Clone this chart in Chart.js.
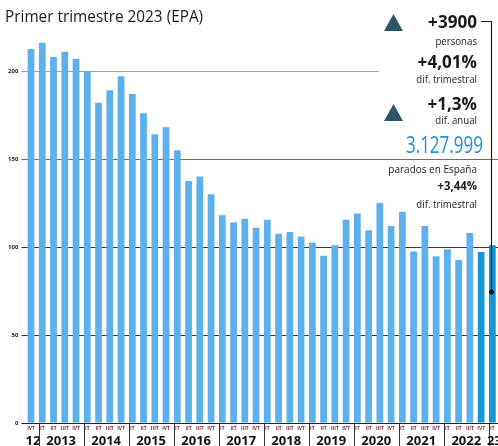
<!DOCTYPE html>
<html>
<head>
<meta charset="utf-8">
<script src="https://cdn.jsdelivr.net/npm/chart.js@4.4.0/dist/chart.umd.min.js"></script>
<style>
  html, body { margin: 0; padding: 0; background: #fff; overflow: hidden; }
  canvas { display: block; }
</style>
</head>
<body>
<canvas id="paroChart" width="498" height="446"></canvas>
<script>
// parados por trimestre (miles), EPA
const quarters = ['IVT',
  'IT','IIT','IIIT','IVT', 'IT','IIT','IIIT','IVT', 'IT','IIT','IIIT','IVT',
  'IT','IIT','IIIT','IVT', 'IT','IIT','IIIT','IVT', 'IT','IIT','IIIT','IVT',
  'IT','IIT','IIIT','IVT', 'IT','IIT','IIIT','IVT', 'IT','IIT','IIIT','IVT',
  'IT','IIT','IIIT','IVT', 'IT'];
const years = ['12','2013','2014','2015','2016','2017','2018','2019','2020','2021','2022','23'];
const quartersPerYear = [1,4,4,4,4,4,4,4,4,4,4,1];
const parados = [212.5,
  216, 208, 211, 207,
  200, 182, 189, 197,
  187, 176, 164, 168,
  155, 137.5, 140, 130,
  118, 114, 116, 111,
  115.5, 107.5, 108.5, 106,
  102.5, 95, 101, 115.5,
  119, 109.5, 125, 112,
  120, 97.5, 112, 94.7,
  98.7, 92.6, 108, 97.2,
  101];
const yTicks = [0, 50, 100, 150, 200];

const gridColors = { 0: '#222222', 50: '#4a3333', 100: '#4a3030', 150: '#b9504a', 200: '#a3a3a3' };

const labels = quarters.map((q, i) => q + '-' + i);

function tri(c, x, y) {
  c.beginPath();
  c.moveTo(x, y + 17);
  c.lineTo(x + 9.5, y);
  c.lineTo(x + 19, y + 17);
  c.closePath();
  c.fillStyle = '#2f5569';
  c.fill();
}

// texto estrechado (la fuente original es condensada)
function narrowText(c, txt, right, base, sx) {
  c.save();
  c.translate(right, base);
  c.scale(sx, 1);
  c.textAlign = 'right';
  c.fillText(txt, 0, 0);
  c.restore();
}

const overlay = {
  id: 'overlay',
  afterDraw(chart) {
    const c = chart.ctx;
    const xs = chart.scales.x;
    c.save();

    // hueco blanco del recuadro de la derecha
    c.fillStyle = '#fff';
    c.fillRect(379, 30, 119, 110);

    // titulo
    c.fillStyle = '#1b1b1b';
    c.font = '500 16.5px "Open Sans"';
    c.textAlign = 'left';
    c.textBaseline = 'alphabetic';
    c.save();
    c.translate(5, 22);
    c.scale(0.93, 1);
    c.fillText('Primer trimestre 2023 (EPA)', 0, 0);
    c.restore();

    // etiquetas de trimestre
    c.font = 'bold 5px "Open Sans"';
    c.textAlign = 'center';
    c.fillStyle = '#7b2d4a';
    quarters.forEach((q, i) => {
      c.fillText(q, xs.getPixelForValue(i), 430);
    });

    // años y separadores
    c.font = 'bold 13px "Open Sans"';
    c.fillStyle = '#111';
    c.strokeStyle = '#333';
    c.lineWidth = 1;
    let idx = 0;
    years.forEach((y, k) => {
      const n = quartersPerYear[k];
      const first = xs.getPixelForValue(idx);
      const last = xs.getPixelForValue(idx + n - 1);
      c.fillText(y, (first + last) / 2 + 2, 445);
      idx += n;
      if (idx < quarters.length) {
        const sx = Math.round((last + xs.getPixelForValue(idx)) / 2) + 2.5;
        c.beginPath();
        c.moveTo(sx, 424);
        c.lineTo(sx, 446);
        c.stroke();
      }
    });

    // cifras de la derecha
    c.textAlign = 'right';
    c.fillStyle = '#1b1b1b';
    c.font = 'bold 18px "Open Sans"';
    narrowText(c, '+3900', 477, 28, 0.95);
    c.font = '10.5px "Open Sans"';
    narrowText(c, 'personas', 477, 45, 0.92);
    c.font = 'bold 18px "Open Sans"';
    narrowText(c, '+4,01%', 477, 68, 0.95);
    c.font = '10.5px "Open Sans"';
    narrowText(c, 'dif. trimestral', 477, 83, 0.92);
    c.font = 'bold 18px "Open Sans"';
    narrowText(c, '+1,3%', 477, 110, 0.95);
    c.font = '10.5px "Open Sans"';
    narrowText(c, 'dif. anual', 477, 124, 0.92);
    c.fillStyle = '#2a8dd4';
    c.font = '23px "Open Sans"';
    narrowText(c, '3.127.999', 483, 153, 0.74);
    c.fillStyle = '#1b1b1b';
    c.font = '10.5px "Open Sans"';
    narrowText(c, 'parados en España', 477, 173, 0.95);
    c.font = 'bold 12px "Open Sans"';
    narrowText(c, '+3,44%', 477, 190, 0.95);
    c.font = '10.5px "Open Sans"';
    narrowText(c, 'dif. trimestral', 477, 208, 0.92);

    tri(c, 384, 14);
    tri(c, 384, 104);

    // corchete
    c.strokeStyle = '#222';
    c.lineWidth = 1.2;
    c.beginPath();
    c.moveTo(481, 21.5);
    c.lineTo(491.5, 21.5);
    c.lineTo(491.5, 292);
    c.stroke();
    c.fillStyle = '#111';
    c.beginPath();
    c.arc(491.5, 292, 2.5, 0, Math.PI * 2);
    c.fill();

    c.restore();
  }
};

new Chart(document.getElementById('paroChart'), {
  type: 'bar',
  data: {
    labels: labels,
    datasets: [{
      data: parados,
      backgroundColor: parados.map((v, i) => i >= parados.length - 2 ? '#1796d7' : '#5cb0ec'),
      borderWidth: 0,
      barPercentage: 0.6,
      categoryPercentage: 1
    }]
  },
  options: {
    responsive: false,
    devicePixelRatio: 1,
    animation: false,
    layout: { padding: { top: 27, bottom: 23, left: 0, right: 0 } },
    plugins: { legend: { display: false }, tooltip: { enabled: false }, title: { display: false } },
    scales: {
      x: { display: false },
      y: {
        min: 0,
        max: 225,
        z: 1,
        afterBuildTicks(scale) {
          scale.ticks = yTicks.map(v => ({ value: v }));
        },
        afterFit(scale) { scale.width = 25.4; },
        border: { display: false },
        grid: {
          color: ctx => gridColors[ctx.tick.value] || 'transparent',
          lineWidth: 1,
          drawTicks: true,
          tickLength: 4
        },
        ticks: {
          padding: 3,
          color: '#222',
          font: { family: 'Open Sans', size: 6, weight: 'bold' }
        }
      }
    }
  },
  plugins: [overlay]
});
</script>
</body>
</html>
